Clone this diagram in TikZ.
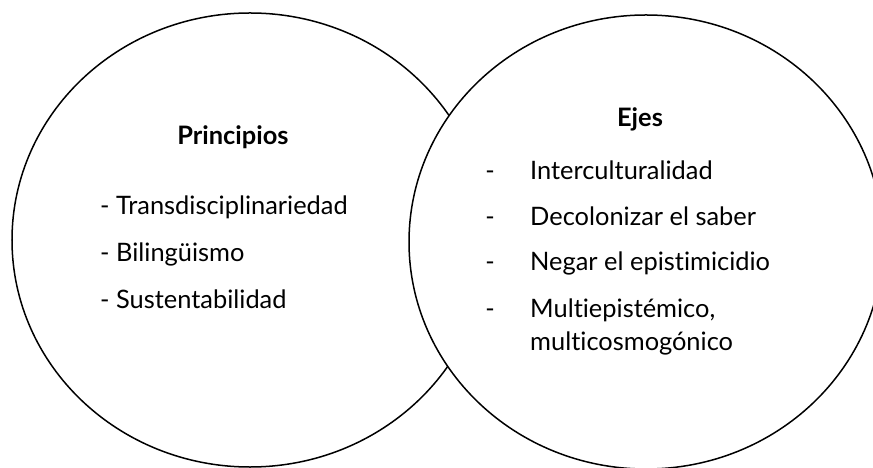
\documentclass[tikz,border=0pt]{standalone}
\usepackage{fontspec}
\setmainfont{Lato}[Ligatures={NoCommon,NoContextual}]
\begin{document}
\begin{tikzpicture}[x=1bp,y=-1bp,
  ring/.style={draw=black,fill=white,line width=1.5bp},
  title/.style={font=\fontsize{25.5}{30}\selectfont\bfseries,inner sep=0pt,anchor=base},
  item/.style={font=\fontsize{25.5}{30}\selectfont,inner sep=0pt,anchor=base west},
  dashmark/.style={font=\fontsize{25.5}{30}\selectfont,inner sep=0pt,anchor=base}]
\useasboundingbox (0,0) rectangle (873,468);
\clip (0,0) rectangle (873,468);
\fill[white] (0,0) rectangle (873,468);
\draw[ring] (250,240) ellipse [x radius=238bp, y radius=227bp];
\draw[ring] (646,242) ellipse [x radius=237bp, y radius=227bp];
% left
\node[title] (pt) at (233,145) {Principios};
\node[item] (p1) at (100,215) {- Transdisciplinariedad};
\node[item] (p2) at (100,262) {- Bilingüismo};
\node[item] (p3) at (100,309) {- Sustentabilidad};
% right
\node[title] (et) at (640,127) {Ejes};
\node[dashmark] (d1) at (490,180) {-};
\node[item] (e1) at (530,180) {Interculturalidad};
\node[dashmark] (d2) at (490,226) {-};
\node[item] (e2) at (530,226) {Decolonizar el saber};
\node[dashmark] (d3) at (490,271) {-};
\node[item] (e3) at (530,271) {Negar el epistimicidio};
\node[dashmark] (d4) at (490,318) {-};
\node[item] (e4) at (530,318) {Multiepistémico,};
\node[item] (e5) at (530,351) {multicosmogónico};
\end{tikzpicture}
\end{document}
